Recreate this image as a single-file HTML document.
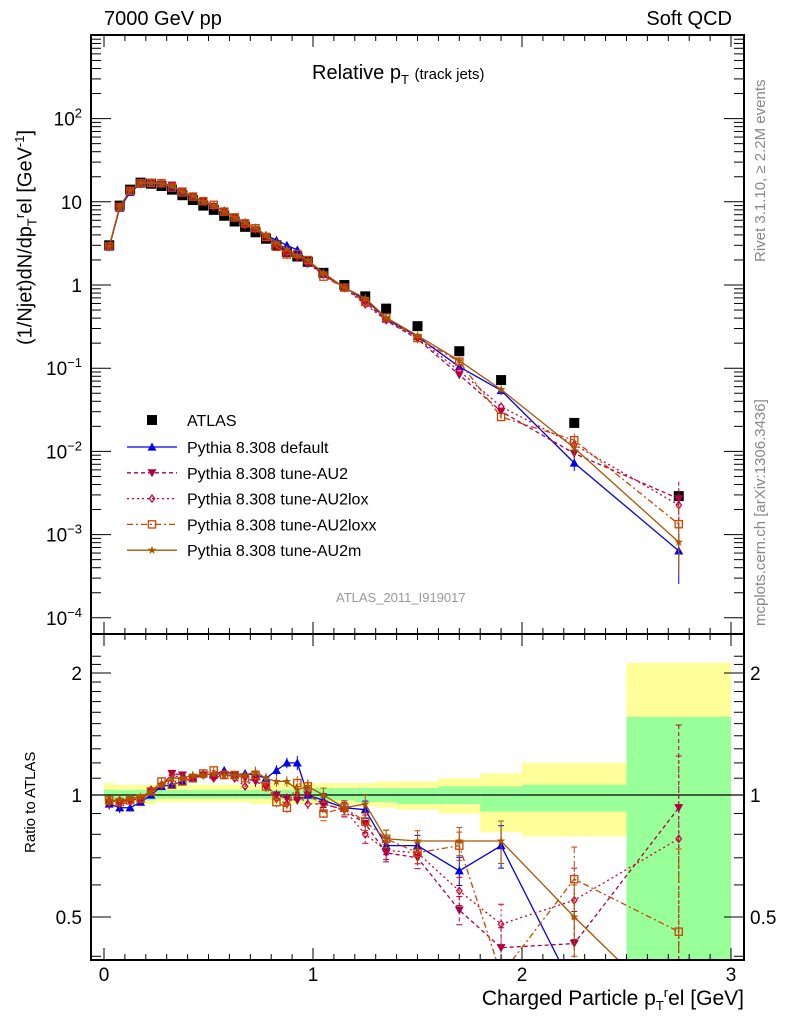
<!DOCTYPE html>
<html><head><meta charset="utf-8"><style>
html,body{margin:0;background:#fff;width:786px;height:1024px;overflow:hidden}
body{position:relative}
svg{display:block;font-family:"Liberation Sans",sans-serif}
</style></head><body>
<svg id="c" width="786" height="1024" viewBox="0 0 786 1024" xmlns="http://www.w3.org/2000/svg"></svg>
<script>
const binLo=[0,0.05,0.1,0.15,0.2,0.25,0.3,0.35,0.4,0.45,0.5,0.55,0.6,0.65,0.7,0.75,0.8,0.85,0.9,0.95,1.0,1.1,1.2,1.3,1.4,1.6,1.8,2.0,2.5];
const binHi=[0.05,0.1,0.15,0.2,0.25,0.3,0.35,0.4,0.45,0.5,0.55,0.6,0.65,0.7,0.75,0.8,0.85,0.9,0.95,1.0,1.1,1.2,1.3,1.4,1.6,1.8,2.0,2.5,3.0];
const atlas=[3.0,9,14,17,16.5,15.5,14,12,10.5,9,8,6.8,5.8,5,4.3,3.6,3.0,2.5,2.2,1.9,1.4,1.0,0.73,0.52,0.32,0.16,0.072,0.022,0.0029];
const yellowHi=[1.07,1.06,1.06,1.06,1.06,1.06,1.06,1.06,1.06,1.06,1.06,1.06,1.06,1.06,1.06,1.06,1.07,1.07,1.07,1.07,1.07,1.07,1.07,1.08,1.08,1.1,1.13,1.2,2.12];
const yellowLo=[0.94,0.95,0.95,0.95,0.95,0.96,0.96,0.96,0.96,0.96,0.96,0.96,0.96,0.96,0.95,0.95,0.95,0.95,0.95,0.95,0.95,0.95,0.94,0.93,0.92,0.9,0.81,0.79,0.3];
const greenHi=[1.03,1.03,1.03,1.03,1.03,1.03,1.03,1.03,1.03,1.03,1.03,1.03,1.03,1.03,1.03,1.03,1.03,1.03,1.03,1.03,1.04,1.04,1.04,1.04,1.04,1.05,1.05,1.06,1.56];
const greenLo=[0.97,0.97,0.97,0.97,0.97,0.98,0.98,0.98,0.98,0.98,0.98,0.98,0.98,0.98,0.98,0.98,0.97,0.97,0.97,0.97,0.97,0.97,0.96,0.96,0.95,0.95,0.91,0.91,0.3];
const rDefault=[0.95,0.93,0.93,0.96,1.0,1.05,1.06,1.08,1.1,1.13,1.12,1.15,1.12,1.13,1.12,1.1,1.15,1.2,1.2,1.0,0.97,0.93,0.92,0.75,0.75,0.65,0.75,0.33,0.22];
const rAU2=[0.95,0.95,0.96,0.97,1.02,1.05,1.13,1.12,1.1,1.12,1.1,1.12,1.12,1.1,1.08,1.05,1.0,0.98,0.97,1.0,0.95,0.92,0.85,0.72,0.7,0.52,0.42,0.43,0.93];
const rAU2lox=[0.97,0.97,0.97,0.98,1.03,1.06,1.12,1.1,1.1,1.12,1.1,1.13,1.1,1.05,1.1,1.05,0.98,0.95,1.0,0.95,0.95,0.92,0.8,0.73,0.72,0.58,0.48,0.55,0.78];
const rAU2loxx=[0.97,0.96,0.97,0.98,1.02,1.08,1.06,1.08,1.1,1.13,1.15,1.12,1.12,1.1,1.12,1.05,0.96,0.93,1.07,1.05,0.9,0.93,0.86,0.78,0.72,0.75,0.36,0.62,0.46];
const rAU2m=[0.97,0.97,0.98,0.99,1.02,1.06,1.1,1.1,1.12,1.12,1.13,1.12,1.12,1.12,1.14,1.1,1.08,1.08,1.03,1.05,1.0,0.93,0.95,0.78,0.77,0.77,0.77,0.5,0.28];
const relErr=[0.03,0.03,0.02,0.02,0.02,0.02,0.02,0.02,0.02,0.02,0.02,0.02,0.02,0.02,0.03,0.03,0.03,0.03,0.04,0.04,0.04,0.04,0.05,0.05,0.06,0.08,0.12,0.2,0.6];
const xTicks=[0,1,2,3];

const svg=document.getElementById('c');
const NS='http://www.w3.org/2000/svg';
function el(t,a,p){const e=document.createElementNS(NS,t);for(const k in a)e.setAttribute(k,a[k]);(p||svg).appendChild(e);return e;}
const L=91,R=744,T=35,MB=634,RB=960;
const clampM=y=>Math.max(T,Math.min(MB,y));
const clampR=y=>Math.max(MB,Math.min(RB,y));
const X=v=>104+v*209;
const Y=v=>clampM(285-83.2*Math.log10(v));
const YR=v=>clampR(795-405.3*Math.log10(v));
const clipM=el('clipPath',{id:'cm'});el('rect',{x:L,y:T,width:R-L,height:MB-T},clipM);
const clipR=el('clipPath',{id:'cr'});el('rect',{x:L,y:MB,width:R-L,height:RB-MB},clipR);

const bands=el('g',{'clip-path':'url(#cr)'});


for(let i=0;i<binLo.length;i++){
  const yb=el('rect',{x:X(binLo[i]),y:YR(yellowHi[i]),width:X(binHi[i])-X(binLo[i]),height:YR(yellowLo[i])-YR(yellowHi[i]),fill:'#ffff99'},bands);
  
  
  const gb=el('rect',{x:X(binLo[i]),y:YR(greenHi[i]),width:X(binHi[i])-X(binLo[i]),height:YR(greenLo[i])-YR(greenHi[i]),fill:'#99ff99'},bands);
  
  
}
el('line',{x1:L,x2:R,y1:YR(1),y2:YR(1),stroke:'#000','stroke-width':1.2});

const centers=binLo.map((l,i)=>(l+binHi[i])/2);
const series=[
 {name:'Pythia 8.308 default',r:rDefault,c:'#0000ee',dash:'',m:'tri'},
 {name:'Pythia 8.308 tune-AU2',r:rAU2,c:'#aa0044',dash:'4,3',m:'tridown'},
 {name:'Pythia 8.308 tune-AU2lox',r:rAU2lox,c:'#cc0033',dash:'2,3',m:'diamond'},
 {name:'Pythia 8.308 tune-AU2loxx',r:rAU2loxx,c:'#cc4400',dash:'6,3,2,3',m:'square'},
 {name:'Pythia 8.308 tune-AU2m',r:rAU2m,c:'#aa5500',dash:'',m:'star'}
];
function marker(g,m,x,y,c,s){
  s=s||1;
  if(m==='tri')el('path',{d:`M${x},${y-5*s}L${x+5*s},${y+4*s}L${x-5*s},${y+4*s}Z`,fill:c},g);
  else if(m==='tridown')el('path',{d:`M${x},${y+5*s}L${x+5*s},${y-4*s}L${x-5*s},${y-4*s}Z`,fill:c},g);
  else if(m==='diamond')el('path',{d:`M${x},${y-4*s}L${x+3*s},${y}L${x},${y+4*s}L${x-3*s},${y}Z`,fill:'none',stroke:c,'stroke-width':1.2},g);
  else if(m==='square')el('rect',{x:x-4*s,y:y-4*s,width:8*s,height:8*s,fill:'none',stroke:c,'stroke-width':1.3},g);
  else if(m==='star'){let d='';for(let k=0;k<10;k++){const a=-Math.PI/2+k*Math.PI/5,rr=k%2?2*s:5*s;d+=(k?'L':'M')+(x+rr*Math.cos(a))+','+(y+rr*Math.sin(a));}el('path',{d:d+'Z',fill:c},g);}
  else if(m==='sq')el('rect',{x:x-5*s,y:y-5*s,width:10*s,height:10*s,fill:c},g);
}
const ag=el('g',{'clip-path':'url(#cm)'});


centers.forEach((c,i)=>marker(ag,'sq',X(c),Y(atlas[i]),'#000'));
series.forEach(s=>{
  const gm=el('g',{'clip-path':'url(#cm)'});
  
  
  const gr=el('g',{'clip-path':'url(#cr)'});
  
  
  const vals=s.r.map((r,i)=>r*atlas[i]);
  el('polyline',{points:centers.map((c,i)=>X(c)+','+Y(vals[i])).join(' '),fill:'none',stroke:s.c,'stroke-width':1.3,'stroke-dasharray':s.dash},gm);
  // ratio line: compute raw positions, clipped visually; avoid out-of-frame geometry by clipping segments
  const raw=centers.map((c,i)=>[X(c),795-405.3*Math.log10(s.r[i])]);
  let pts=[];
  for(let i=0;i<raw.length;i++){
    const [x,y]=raw[i];
    if(y<=RB){pts.push([x,y]);}
    if(i<raw.length-1){
      const [x2,y2]=raw[i+1];
      if((y<=RB)!==(y2<=RB)){const t=(RB-y)/(y2-y);pts.push([x+t*(x2-x),RB]);}
    }
  }
  // build segments only where inside
  let seg=[];const segs=[];
  for(let i=0;i<raw.length;i++){
    const [x,y]=raw[i];
    if(y<=RB)seg.push([x,y]);
    if(i<raw.length-1){
      const [x2,y2]=raw[i+1];
      if(y<=RB&&y2>RB){const t=(RB-y)/(y2-y);seg.push([x+t*(x2-x),RB]);segs.push(seg);seg=[];}
      else if(y>RB&&y2<=RB){const t=(RB-y)/(y2-y);seg=[[x+t*(x2-x),RB]];}
    }
  }
  if(seg.length)segs.push(seg);
  segs.forEach(sg=>el('polyline',{points:sg.map(p=>p[0]+','+p[1]).join(' '),fill:'none',stroke:s.c,'stroke-width':1.3,'stroke-dasharray':s.dash},gr));
  centers.forEach((c,i)=>{
    const e=relErr[i];
    el('line',{x1:X(c),x2:X(c),y1:Y(vals[i]*(1+e)),y2:Y(Math.max(vals[i]*(1-e),1e-6)),stroke:s.c,'stroke-width':1,'stroke-dasharray':s.dash},gm);
    const rawY=795-405.3*Math.log10(s.r[i]);
    if(rawY<=RB){
      el('line',{x1:X(c),x2:X(c),y1:YR(s.r[i]*(1+e)),y2:YR(Math.max(s.r[i]*(1-e),0.01)),stroke:s.c,'stroke-width':1,'stroke-dasharray':s.dash},gr);
      if(i>19){[s.r[i]*(1+e),s.r[i]*(1-e)].forEach(v=>{const yy=795-405.3*Math.log10(v);if(yy<RB&&yy>MB)el('line',{x1:X(c)-3,x2:X(c)+3,y1:yy,y2:yy,stroke:s.c},gr);});}
      marker(gr,s.m,X(c),YR(s.r[i]),s.c,0.9);
    }
    marker(gm,s.m,X(c),Y(vals[i]),s.c,0.9);
  });
});
[[T,MB],[MB,RB]].forEach(([a,b])=>el('rect',{x:L,y:a,width:R-L,height:b-a,fill:'none',stroke:'#000','stroke-width':2}));
for(let k=0;k<=30;k++){const v=k/10,x=X(v),len=k%10?6:12;
  if(x>R)continue;
  [[T,1],[MB,-1],[MB,1],[RB,-1]].forEach(([y,d])=>el('line',{x1:x,x2:x,y1:y,y2:y+d*len,stroke:'#000'}));
}
xTicks.forEach(v=>{const t=el('text',{x:X(v),y:981,'font-size':19,'text-anchor':'middle'});t.textContent=v;
  
  });
for(let e=-4;e<=2;e++){
  for(let m=1;m<10;m++){const v=m*Math.pow(10,e),y=285-83.2*Math.log10(v);if(y<T||y>MB)continue;const len=m===1?20:10;
    el('line',{x1:L,x2:L+len,y1:y,y2:y,stroke:'#000'});el('line',{x1:R,x2:R-len,y1:y,y2:y,stroke:'#000'});}
  const t=el('text',{x:82,y:Y(Math.pow(10,e))+7,'font-size':19,'text-anchor':'end'});
  
  
  if(e===0)t.textContent='1';else if(e===1)t.textContent='10';
  else{t.textContent='10';const s=el('tspan',{dy:-8,'font-size':13},t);s.textContent=String(e).replace('-','−');}
}
[0.4,0.5,0.6,0.7,0.8,0.9,1,1.1,1.2,1.3,1.4,1.5,1.6,1.7,1.8,1.9,2,2.1,2.2].forEach(v=>{const y=795-405.3*Math.log10(v);if(y<MB||y>RB)return;const len=(v===0.5||v===1||v===2)?20:10;
  el('line',{x1:L,x2:L+len,y1:y,y2:y,stroke:'#000'});el('line',{x1:R,x2:R-len,y1:y,y2:y,stroke:'#000'});});
[[0.5,'0.5'],[1,'1'],[2,'2']].forEach(([v,s])=>{
  const a=el('text',{x:82,y:YR(v)+7,'font-size':19,'text-anchor':'end'});a.textContent=s;
  
  
  const b=el('text',{x:750,y:YR(v)+7,'font-size':19});b.textContent=s;
  
  
});
const lg=el('g',{});


marker(lg,'sq',152,420,'#000');
let t0=el('text',{x:187,y:426,'font-size':16},lg);t0.textContent='ATLAS';
series.forEach((s,i)=>{const y=447+i*25.8;
  el('line',{x1:127,x2:177,y1:y,y2:y,stroke:s.c,'stroke-width':1.3,'stroke-dasharray':s.dash},lg);
  marker(lg,s.m,152,y,s.c,0.9);
  const t=el('text',{x:187,y:y+6,'font-size':16},lg);t.textContent=s.name;
  
  
});
</script>
<div style="position:absolute;left:0;top:0;width:786px;height:1024px;overflow:hidden;pointer-events:none;font-family:'Liberation Sans',sans-serif">
<div style="position:absolute;left:104px;top:8px;font-size:20px">7000 GeV pp</div>
<div style="position:absolute;right:54px;top:8px;font-size:20px">Soft QCD</div>
<div style="position:absolute;left:312px;top:62px;font-size:20px">Relative p<sub style="font-size:13px">T</sub> <span style="font-size:15px">(track jets)</span></div>
<div style="position:absolute;left:336px;top:590px;font-size:13px;color:#999">ATLAS_2011_I919017</div>
<div style="position:absolute;left:752px;top:262px;font-size:15px;color:#888;transform-origin:0 0;transform:rotate(-90deg);white-space:nowrap">Rivet 3.1.10, ≥ 2.2M events</div>
<div style="position:absolute;left:752px;top:626px;font-size:15px;color:#888;transform-origin:0 0;transform:rotate(-90deg);white-space:nowrap">mcplots.cern.ch [arXiv:1306.3436]</div>
<div style="position:absolute;left:12px;top:345px;font-size:20px;transform-origin:0 0;transform:rotate(-90deg);white-space:nowrap">(1/Njet)dN/dp<sub style="font-size:13px">T</sub><sup style="font-size:13px">r</sup>el [GeV<sup style="font-size:13px">-1</sup>]</div>
<div style="position:absolute;left:22px;top:853px;font-size:15px;transform-origin:0 0;transform:rotate(-90deg);white-space:nowrap">Ratio to ATLAS</div>
<div style="position:absolute;right:42px;top:985px;font-size:21px;white-space:nowrap">Charged Particle p<sub style="font-size:13px">T</sub><sup style="font-size:13px">r</sup>el [GeV]</div>
</div>
</body></html>
